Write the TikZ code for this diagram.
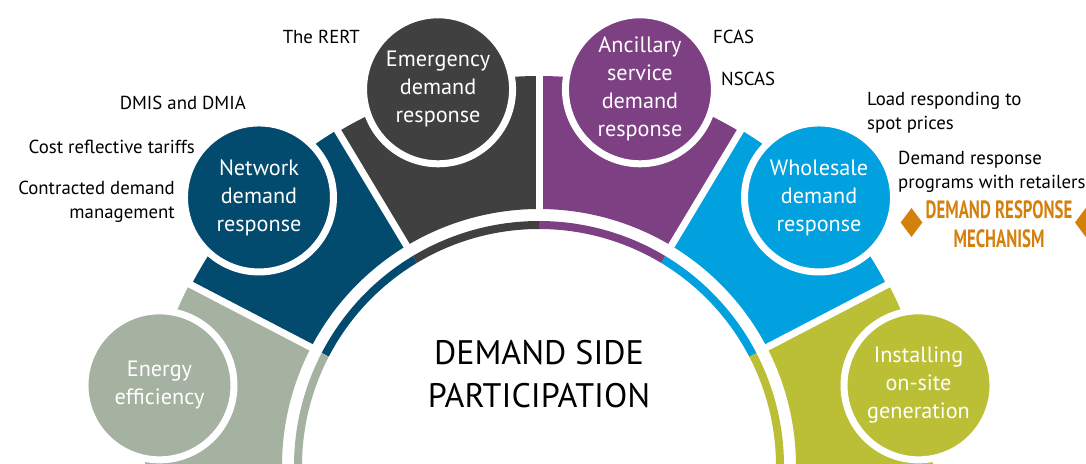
\documentclass[tikz,border=0pt]{standalone}
\usepackage{fontspec}
\setmainfont{PT Sans}
\definecolor{cEE}{RGB}{165,178,161}
\definecolor{cNW}{RGB}{2,74,110}
\definecolor{cEM}{RGB}{64,64,64}
\definecolor{cAN}{RGB}{125,64,131}
\definecolor{cWH}{RGB}{0,161,222}
\definecolor{cIN}{RGB}{186,191,53}
\definecolor{cOR}{RGB}{212,128,12}
\newcommand\annsec[5]{\fill[#1] ([shift={(#2:#4)}]C) arc[start angle=#2,end angle=#3,radius=#4] -- ([shift={(#3:#5)}]C) arc[start angle=#3,end angle=#2,radius=#5] -- cycle;}
\tikzset{
  bub/.style={circle, draw=white, line width=7pt, minimum size=149pt, inner sep=0pt, text=white, align=center, font=\fontsize{22.2}{28}\selectfont},
  side/.style={inner sep=0pt, text=black, font=\fontsize{18.8}{24}\selectfont},
  gapline/.style={white, line width=7pt},
}
\begin{document}
\begin{tikzpicture}[x=1pt,y=1pt]
\useasboundingbox (0,0) rectangle (1086,-463);
\clip (0,0) rectangle (1086,-463);
\coordinate (C) at (539,-466);
% thick ring sectors
\annsec{cIN}{-5}{27.5}{257}{394}
\annsec{cWH}{27.5}{59}{257}{392}
\annsec{cAN}{59}{90}{257}{390}
\annsec{cEM}{90}{121}{257}{390}
\annsec{cNW}{121}{152.5}{257}{392}
\annsec{cEE}{152.5}{185}{257}{394}
% thin ring
\annsec{cIN}{-5}{27.5}{237}{245}
\annsec{cWH}{27.5}{59}{237}{245}
\annsec{cAN}{59}{90}{237}{245}
\annsec{cEM}{90}{121}{237}{245}
\annsec{cNW}{121}{152.5}{237}{245}
\annsec{cEE}{152.5}{185}{237}{245}
% gaps
\foreach \a in {27.5,59,90,121,152.5}
  \draw[gapline] ([shift={(\a:250)}]C) -- ([shift={(\a:410)}]C);
% circles
\node[bub, fill=cIN] (ins) at ([shift={(12:388)}]C) {Installing\\on-site\\generation};
\node[bub, fill=cWH] (who) at ([shift={(43.8:388)}]C) {Wholesale\\demand\\response};
\node[bub, fill=cAN] (anc) at ([shift={(75:390)}]C) {Ancillary\\service\\demand\\response};
\node[bub, fill=cEM] (emg) at ([shift={(105:390)}]C) {Emergency\\demand\\response};
\node[bub, fill=cNW] (net) at ([shift={(136.2:388)}]C) {Network\\demand\\response};
\node[bub, fill=cEE] (ene) at ([shift={(168:388)}]C) {Energy\\efficiency};
% title
\node[font=\fontsize{34}{43}\selectfont, align=center, inner sep=0pt] (title) at (539,-374.5) {DEMAND SIDE\\PARTICIPATION};
% side labels (base anchor = baseline of last line)
\node[side, anchor=base east] (rert) at (360,-43.3) {The RERT};
\node[side, anchor=base east] (dmis) at (246,-109) {DMIS and DMIA};
\node[side, anchor=base east] (crt) at (195,-153.4) {Cost reflective tariffs};
\node[side, anchor=base east, align=right] (cdm) at (175,-218.5) {Contracted demand\\management};
\node[side, anchor=base west] (fcas) at (713,-43.3) {FCAS};
\node[side, anchor=base west] (nscas) at (721,-85.5) {NSCAS};
\node[side, anchor=base west, align=left] (load) at (867,-129.6) {Load responding to\\spot prices};
\node[side, anchor=base west, align=left] (drp) at (898,-188.5) {Demand response\\programs with retailers};
% mechanism
\fill[cOR] (900.7,-222.5) -- (911.5,-208) -- (922.3,-222.5) -- (911.5,-237) -- cycle;
\fill[cOR] (1075,-222.5) -- (1085.8,-208) -- (1096.6,-222.5) -- (1085.8,-237) -- cycle;
\node[font=\fontsize{25}{29}\selectfont\bfseries, text=cOR, align=center, inner sep=0pt] (drm) at (999,-224.5) {\scalebox{0.672}[1]{DEMAND RESPONSE}\\\scalebox{0.672}[1]{MECHANISM}};
\end{tikzpicture}
\end{document}
